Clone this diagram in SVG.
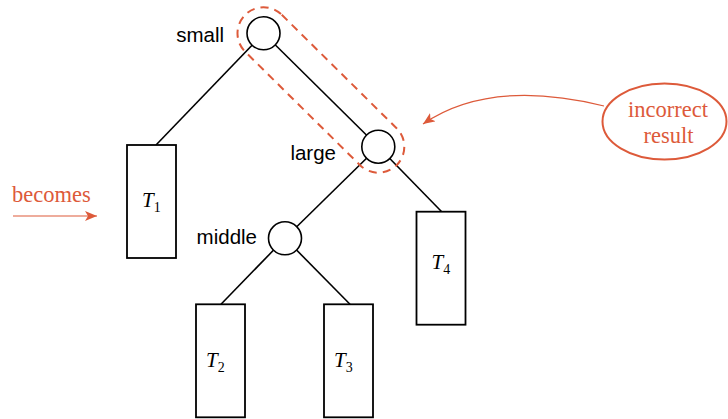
<svg xmlns="http://www.w3.org/2000/svg" width="728" height="419" viewBox="0 0 728 419">
<defs>
<style>
.edge{stroke:#000;stroke-width:1.6;fill:none}
.node{fill:#fff;stroke:#000;stroke-width:1.6}
.box{fill:#fff;stroke:#000;stroke-width:1.8}
.lbl{font-family:"Liberation Sans",Arial,sans-serif;font-size:20.5px;fill:#000}
.tl{font-family:"Liberation Serif","Times New Roman",serif;font-size:21px;font-style:italic;fill:#000}
.sub{font-family:"Liberation Serif","Times New Roman",serif;font-size:14px;font-style:normal}
.note{font-family:"Liberation Serif","Times New Roman",serif;font-size:22.5px;fill:#DD5A3A}
.orange{stroke:#DD5A3A;fill:none}
</style>
<marker id="ah" markerUnits="userSpaceOnUse" markerWidth="14" markerHeight="10" refX="12" refY="5" orient="auto">
<path d="M0,0 L12,5 L0,10 L3,5 Z" fill="#DD5A3A"/>
</marker>
</defs>
<g id="connectors">
<line class="edge" x1="263.5" y1="33.3" x2="156" y2="145"/>
<line class="edge" x1="263.5" y1="33.3" x2="378.3" y2="146.7"/>
<line class="edge" x1="378.3" y1="146.7" x2="285" y2="238.3"/>
<line class="edge" x1="378.3" y1="146.7" x2="441.7" y2="211.7"/>
<line class="edge" x1="285" y1="238.3" x2="221" y2="304.3"/>
<line class="edge" x1="285" y1="238.3" x2="350" y2="304.3"/>
<path class="orange" stroke-width="1.2" d="M604,106 Q490,78 423,124" marker-end="url(#ah)"/>
<line class="orange" stroke-width="1.2" x1="13" y1="216" x2="97" y2="216" marker-end="url(#ah)"/>
</g>
<g id="small">
<circle class="node" cx="263.5" cy="33.3" r="16.5"/>
<text class="lbl" x="224" y="41.5" text-anchor="end">small</text>
</g>
<g id="large">
<circle class="node" cx="378.3" cy="146.7" r="16.5"/>
<text class="lbl" x="336" y="160" text-anchor="end">large</text>
</g>
<g id="middle">
<circle class="node" cx="285" cy="238.3" r="16.5"/>
<text class="lbl" x="257" y="243.5" text-anchor="end">middle</text>
</g>
<g id="T1">
<rect class="box" x="127" y="145" width="49" height="113"/>
<text class="tl" x="142" y="207">T<tspan class="sub" dy="5">1</tspan></text>
</g>
<g id="T2">
<rect class="box" x="196" y="304.3" width="49" height="113"/>
<text class="tl" x="206" y="367">T<tspan class="sub" dy="5">2</tspan></text>
</g>
<g id="T3">
<rect class="box" x="324" y="304.3" width="49" height="113"/>
<text class="tl" x="334" y="367">T<tspan class="sub" dy="5">3</tspan></text>
</g>
<g id="T4">
<rect class="box" x="416.5" y="211.7" width="49" height="113"/>
<text class="tl" x="431.5" y="268.5">T<tspan class="sub" dy="5">4</tspan></text>
</g>
<g id="highlight">
<rect class="orange" stroke-width="2" stroke-dasharray="8,6" x="-106.7" y="-26" width="213.4" height="52" rx="26" transform="translate(320.9,90) rotate(44.65)"/>
</g>
<g id="incorrect-result">
<ellipse class="orange" stroke-width="2" cx="664.5" cy="121.5" rx="62" ry="38"/>
<text class="note" x="668" y="116.5" text-anchor="middle">incorrect</text>
<text class="note" x="668.5" y="143" text-anchor="middle">result</text>
</g>
<g id="becomes">
<text class="note" x="12" y="202">becomes</text>
</g>
</svg>
